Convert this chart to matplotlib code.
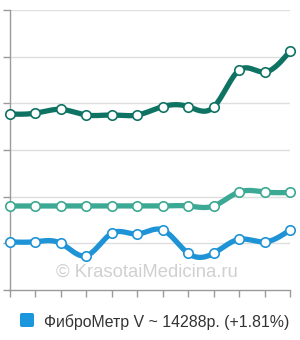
import matplotlib
matplotlib.use("Agg")
import matplotlib.pyplot as plt
from matplotlib.patches import FancyBboxPatch
import numpy as np

x_idx = list(range(12))
series_dark = [3.77, 3.79, 3.87, 3.75, 3.75, 3.75, 3.93, 3.93, 3.92, 4.71, 4.67, 5.12]
series_teal = [1.80, 1.80, 1.80, 1.80, 1.80, 1.80, 1.80, 1.80, 1.80, 2.10, 2.10, 2.09]
series_blue = [1.03, 1.035, 1.00, 0.735, 1.215, 1.20, 1.286, 0.786, 0.786, 1.086, 1.03, 1.286]
colors = ["#0e7362", "#3ba993", "#1e93d6"]
legend_label = "ФиброМетр V ~ 14288р. (+1.81%)"
watermark = "© KrasotaiMedicina.ru"


def natural_spline(xs, ys, per=30):
    xs = np.asarray(xs, float)
    ys = np.asarray(ys, float)
    n = len(xs)
    h = np.diff(xs)
    A = np.zeros((n, n))
    r = np.zeros(n)
    A[0, 0] = 1
    A[-1, -1] = 1
    for i in range(1, n - 1):
        A[i, i - 1] = h[i - 1]
        A[i, i] = 2 * (h[i - 1] + h[i])
        A[i, i + 1] = h[i]
        r[i] = 6 * ((ys[i + 1] - ys[i]) / h[i] - (ys[i] - ys[i - 1]) / h[i - 1])
    M = np.linalg.solve(A, r)
    outx, outy = [], []
    for i in range(n - 1):
        t = np.linspace(xs[i], xs[i + 1], per, endpoint=(i == n - 2))
        a = xs[i + 1] - t
        b = t - xs[i]
        hi = h[i]
        y = (M[i] * a ** 3 / (6 * hi) + M[i + 1] * b ** 3 / (6 * hi)
             + (ys[i] / hi - M[i] * hi / 6) * a + (ys[i + 1] / hi - M[i + 1] * hi / 6) * b)
        outx.append(t)
        outy.append(y)
    return np.concatenate(outx), np.concatenate(outy)


fig = plt.figure(figsize=(3.0, 3.4), dpi=100)
ax = fig.add_axes([10 / 300, 50 / 340, 280 / 300, 280 / 340])
ax.set_xlim(0, 11)
ax.set_ylim(0, 6)

for v in range(1, 7):
    ax.axhline(v, color="#dedede", lw=1.0, zorder=0)

for ys, c in zip([series_dark, series_teal, series_blue], colors):
    sx, sy = natural_spline(x_idx, ys)
    ax.plot(sx, sy, color=c, lw=3.8, solid_capstyle="round", zorder=3, clip_on=False)
    ax.plot(x_idx, ys, linestyle="none", marker="o", markersize=6.8,
            markerfacecolor="white", markeredgecolor=c, markeredgewidth=1.2,
            zorder=4, clip_on=False)

for s in ["top", "right"]:
    ax.spines[s].set_visible(False)
ax.spines["left"].set_color("#9a9a9a")
ax.spines["bottom"].set_color("#9a9a9a")
ax.spines["left"].set_linewidth(1.0)
ax.spines["bottom"].set_linewidth(1.0)
ax.set_xticks(x_idx)
ax.set_yticks(range(0, 7))
ax.set_xticklabels([])
ax.set_yticklabels([])
ax.tick_params(axis="both", color="#9a9a9a", length=5, width=1.0)

fig.text(147 / 300, 1 - 272 / 340, watermark, ha="center", va="center",
         color="#d0d0d0", fontsize=13.3, family="Liberation Sans")

fig.patches.append(FancyBboxPatch((20 / 300, 1 - 327 / 340), 14 / 300, 14 / 340,
                                  boxstyle="round,pad=0,rounding_size=0.006",
                                  transform=fig.transFigure, facecolor="#1a96dd",
                                  edgecolor="none"))
fig.text(44 / 300, 1 - 322 / 340, legend_label, ha="left", va="center",
         color="#333333", fontsize=11.4, family="Liberation Sans")

fig.savefig("out.png", dpi=100)
